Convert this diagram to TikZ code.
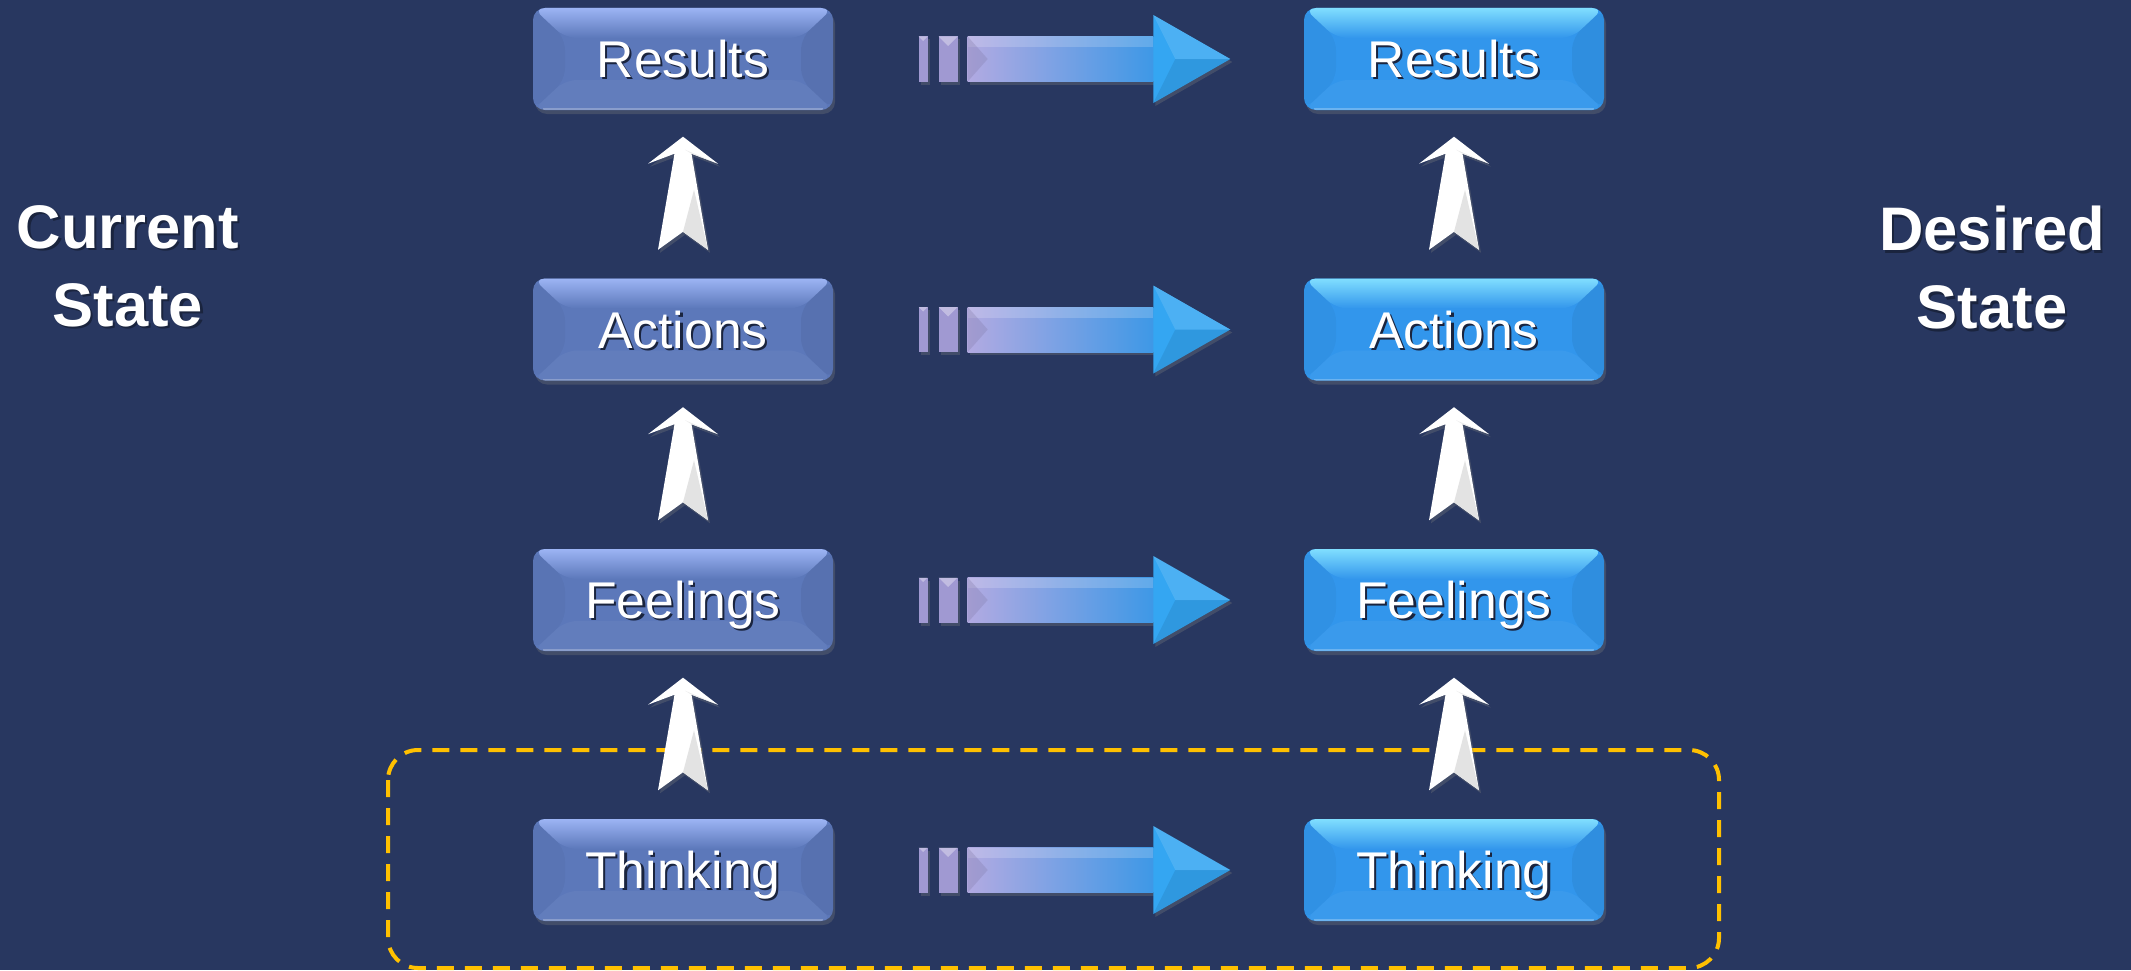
\documentclass[tikz,border=0pt]{standalone}
\usepackage{fontspec}
\setmainfont{Liberation Sans}
\usetikzlibrary{calc,shadows}

\definecolor{bgnavy}{HTML}{283760}
\definecolor{curblue}{HTML}{5C78BA}
\definecolor{curtop}{HTML}{9CB4F4}
\definecolor{desblue}{HTML}{3296EC}
\definecolor{destop}{HTML}{80DEFF}
\definecolor{lavender}{HTML}{B2AAE2}
\definecolor{barlav}{HTML}{A099D2}
\definecolor{shaftblue}{HTML}{3E98E6}
\definecolor{headblue}{HTML}{34A6F2}
\definecolor{frameyellow}{HTML}{FFC000}

% white text with a small dark shadow
\newcommand{\shtxt}[1]{\makebox[0pt][l]{\kern0.6pt\raisebox{-0.6pt}{\textcolor{black!35!bgnavy}{#1}}}#1}

% bevelled face of a box: light top, slightly darker sides
\newcommand{\bevel}[2]{%
  \path (path picture bounding box.north west) coordinate (pnw)
        (path picture bounding box.north east) coordinate (pne)
        (path picture bounding box.south west) coordinate (psw)
        (path picture bounding box.south east) coordinate (pse);
  \shade[top color=#1, bottom color=#2] (pnw) -- (pne) -- ($(pne)+(-0.32,-0.3)$) -- ($(pnw)+(0.32,-0.3)$) -- cycle;
  \fill[black, opacity=0.03] (pnw) -- ($(pnw)+(0.32,-0.3)$) -- ($(psw)+(0.32,0.3)$) -- (psw) -- cycle;
  \fill[black, opacity=0.05] (pne) -- ($(pne)+(-0.32,-0.3)$) -- ($(pse)+(-0.32,0.3)$) -- (pse) -- cycle;
  \fill[white, opacity=0.04] (psw) -- ($(psw)+(0.32,0.3)$) -- ($(pse)+(-0.32,0.3)$) -- (pse) -- cycle;
  \draw[white, opacity=0.25, line width=0.02cm] ($(psw)+(0.1,0.01)$) -- ($(pse)+(-0.1,0.01)$);
}

% white upward arrow from a box to the one above it
\newcommand{\liftarr}[2]{%
  \coordinate (lb) at ($(#1.north)+(0,0.28)$);
  \coordinate (lt) at ($(#2.south)+(0,-0.26)$);
  \fill[white, arrshadow] (lt) -- ($(lt)+(0.35,-0.27)$) -- ($(lt)+(0.085,-0.17)$)
    -- ($(lb)+(0.25,0)$) -- ($(lb)+(0,0.18)$) -- ($(lb)+(-0.25,0)$)
    -- ($(lt)+(-0.085,-0.17)$) -- ($(lt)+(-0.35,-0.27)$) -- cycle;
  \fill[gray!22] ($(lb)+(0,0.18)$) -- ($(lb)+(0.25,0)$) -- ($(lb)+(0.11,0.6)$) -- cycle;
  \fill[gray!15] ($(lt)+(0.35,-0.27)$) -- ($(lt)+(0.085,-0.17)$) -- ($(lt)+(0.02,-0.13)$) -- cycle;
}

% two bars and a shaded arrow from the current box to the desired one
\newcommand{\flowarr}[2]{%
  \coordinate (fs) at ($(#1.east)+(0.85,0)$);
  \coordinate (fe) at ($(#2.west)+(-0.73,0)$);
  \fill[barlav, arrshadow] ($(fs)+(0,0.225)$) rectangle ($(fs)+(0.09,-0.225)$);
  \fill[barlav, arrshadow] ($(fs)+(0.20,0.225)$) rectangle ($(fs)+(0.39,-0.225)$);
  \fill[white, opacity=0.35] ($(fs)+(0,0.225)$) -- ($(fs)+(0.09,0.225)$) -- ($(fs)+(0.045,0.18)$) -- cycle;
  \fill[white, opacity=0.35] ($(fs)+(0.20,0.225)$) -- ($(fs)+(0.39,0.225)$) -- ($(fs)+(0.295,0.13)$) -- cycle;
  \shade[left color=lavender, right color=shaftblue, arrshadow] ($(fs)+(0.49,0.225)$) rectangle ($(fe)+(-0.77,-0.225)$);
  \fill[white, opacity=0.18] ($(fs)+(0.49,0.225)$) rectangle ($(fe)+(-0.77,0.12)$);
  \fill[barlav!80!black, opacity=0.3] ($(fs)+(0.49,0.225)$) -- ($(fs)+(0.69,0)$) -- ($(fs)+(0.49,-0.225)$) -- cycle;
  \fill[headblue, arrshadow] ($(fe)+(-0.77,0.44)$) -- (fe) -- ($(fe)+(-0.77,-0.44)$) -- cycle;
  \fill[white, opacity=0.12] ($(fe)+(-0.77,0.44)$) -- (fe) -- ($(fe)+(-0.55,0)$) -- cycle;
  \fill[black, opacity=0.08] ($(fe)+(-0.77,-0.44)$) -- (fe) -- ($(fe)+(-0.55,0)$) -- cycle;
}

\tikzset{
  arrshadow/.style={drop shadow={shadow xshift=0.02cm, shadow yshift=-0.03cm, opacity=0.3}},
  statebox/.style={rounded corners=0.12cm, minimum width=3cm, minimum height=1.02cm,
    text=white, text height=0.37cm, text depth=0cm, inner sep=0pt,
    font=\fontsize{14.7}{17}\selectfont,
    drop shadow={shadow xshift=0.02cm, shadow yshift=-0.04cm, opacity=0.3}},
  curbox/.style={statebox, fill=curblue, path picture={\bevel{curtop}{curblue}}},
  desbox/.style={statebox, fill=desblue, path picture={\bevel{destop}{desblue}}},
  sidelabel/.style={text=white, align=center, inner sep=0pt,
    font=\fontsize{17.5}{22.2}\selectfont\bfseries}
}

\begin{document}
\begin{tikzpicture}
    \useasboundingbox (0,0) rectangle (21.31,-9.70);
    \fill[bgnavy] (0,0) rectangle (21.31,-9.70);

    % Side labels
    \node[sidelabel] (cur) at (1.28,-2.67) {\shtxt{Current}\\\shtxt{State}};
    \node[sidelabel] (des) at (19.92,-2.69) {\shtxt{Desired}\\\shtxt{State}};

    % Current state column
    \node[curbox] (cr) at (6.83,-0.59) {\shtxt{Results}};
    \node[curbox] (ca) at (6.83,-3.295) {\shtxt{Actions}};
    \node[curbox] (cf) at (6.83,-6.00) {\shtxt{Feelings}};
    \node[curbox] (ct) at (6.83,-8.70) {\shtxt{Thinking}};

    % Desired state column
    \node[desbox] (dr) at (14.54,-0.59) {\shtxt{Results}};
    \node[desbox] (da) at (14.54,-3.295) {\shtxt{Actions}};
    \node[desbox] (df) at (14.54,-6.00) {\shtxt{Feelings}};
    \node[desbox] (dt) at (14.54,-8.70) {\shtxt{Thinking}};

    % Dashed frame around the thinking row
    \draw[frameyellow, line width=0.04cm, dash pattern=on 0.17cm off 0.11cm, rounded corners=0.3cm]
        (3.88,-7.50) rectangle (17.19,-9.68);

    % Upward arrows
    \liftarr{ca}{cr}
    \liftarr{cf}{ca}
    \liftarr{ct}{cf}
    \liftarr{da}{dr}
    \liftarr{df}{da}
    \liftarr{dt}{df}

    % Arrows from current to desired
    \flowarr{cr}{dr}
    \flowarr{ca}{da}
    \flowarr{cf}{df}
    \flowarr{ct}{dt}
\end{tikzpicture}
\end{document}
